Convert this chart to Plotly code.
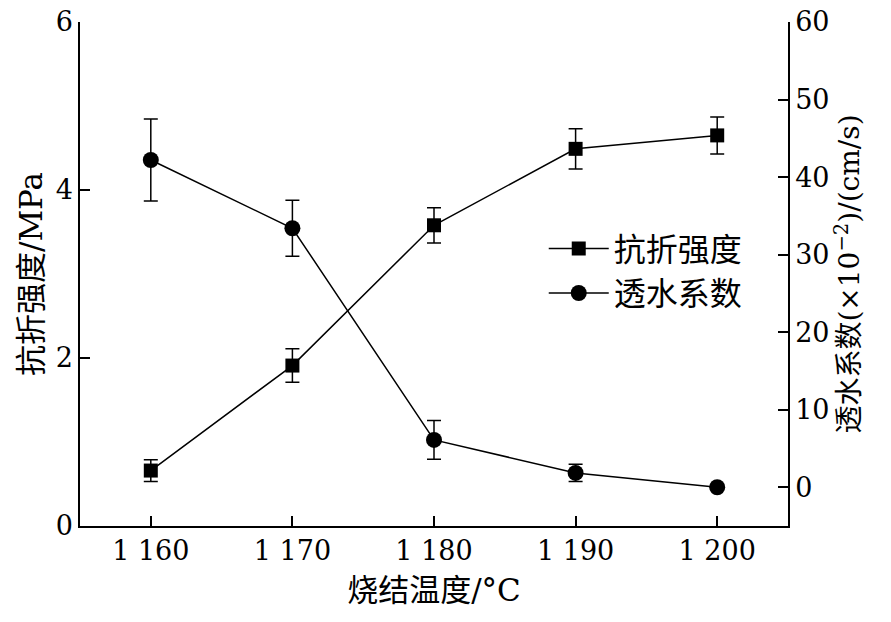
import plotly.graph_objects as go

# 烧结温度 (°C)
temp = [1160, 1170, 1180, 1190, 1200]
temp_labels = ["1 160", "1 170", "1 180", "1 190", "1 200"]

# 抗折强度 / MPa
strength = [0.66, 1.91, 3.58, 4.49, 4.65]
strength_err = [0.13, 0.20, 0.21, 0.24, 0.22]

# 透水系数 (×10^-2 cm/s)
perm = [42.2, 33.4, 6.1, 1.85, 0.0]
perm_err = [5.3, 3.6, 2.5, 1.1, 0.0]

serif = "DejaVu Serif, Noto Sans CJK SC"

fig = go.Figure()

fig.add_trace(go.Scatter(
    x=temp, y=strength, name="抗折强度", mode="lines+markers",
    line=dict(color="black", width=1.5),
    marker=dict(symbol="square", size=14, color="black"),
    error_y=dict(type="data", array=strength_err, visible=True,
                 color="black", thickness=1.5, width=7),
))

fig.add_trace(go.Scatter(
    x=temp, y=perm, name="透水系数", mode="lines+markers", yaxis="y2",
    line=dict(color="black", width=1.5),
    marker=dict(symbol="circle", size=16, color="black"),
    error_y=dict(type="data", array=perm_err, visible=True,
                 color="black", thickness=1.5, width=7),
))

# the page body adds an 8px offset, so margins are shifted to match
fig.update_layout(
    width=891, height=622,
    margin=dict(l=72, r=111, t=14, b=104),
    paper_bgcolor="white", plot_bgcolor="white",
    font=dict(family=serif, size=27, color="black"),
    showlegend=True,
    legend=dict(x=0.655, y=0.605, xanchor="left", yanchor="top",
                bgcolor="rgba(0,0,0,0)", font=dict(size=32),
                tracegroupgap=0, itemwidth=60),
    xaxis=dict(
        range=[1155, 1205], tickvals=temp, ticktext=temp_labels,
        ticks="inside", ticklen=10, tickwidth=1.5, tickcolor="black",
        showline=True, linecolor="black", linewidth=2,
        showgrid=False, zeroline=False, automargin=False,
        title=dict(text="烧结温度/°C", standoff=14, font=dict(size=31)),
    ),
    yaxis=dict(
        range=[0, 6], tick0=0, dtick=2,
        ticks="inside", ticklen=10, tickwidth=1.5, tickcolor="black",
        showline=True, linecolor="black", linewidth=1.5,
        showgrid=False, zeroline=False, automargin=False,
        ticklabeloverflow="allow",
        title=dict(text="抗折强度/MPa", standoff=4, font=dict(size=31)),
    ),
    yaxis2=dict(
        overlaying="y", side="right",
        range=[-5, 60], tick0=0, dtick=10,
        ticks="inside", ticklen=10, tickwidth=1.5, tickcolor="black",
        showline=True, linecolor="black", linewidth=1.5,
        showgrid=False, zeroline=False, automargin=False,
        ticklabeloverflow="allow",
        title=dict(text="透水系数(×10<sup>−2</sup>)/(cm/s)", standoff=10,
                   font=dict(size=28)),
    ),
)

fig.write_html("out.html")
